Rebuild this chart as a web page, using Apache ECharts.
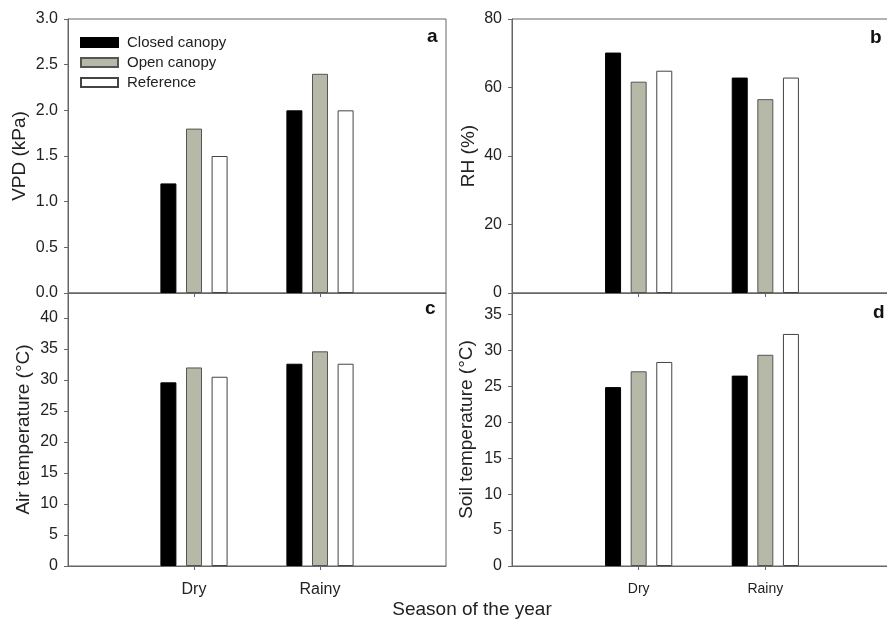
<!DOCTYPE html>
<html>
<head>
<meta charset="utf-8">
<script src="https://cdn.jsdelivr.net/npm/echarts@6/dist/echarts.min.js"></script>
<style>html,body{margin:0;padding:0;background:#fff}#c{width:887px;height:621px}</style>
</head>
<body>
<div id="c"></div>
<script>
const seasons = ['Dry', 'Rainy'];
const seriesNames = ['Closed canopy', 'Open canopy', 'Reference'];

const vpdClosed = [1.2, 2.0];
const vpdOpen = [1.8, 2.4];
const vpdRef = [1.5, 2.0];

const rhClosed = [70.2, 62.9];
const rhOpen = [61.7, 56.6];
const rhRef = [64.9, 62.9];

const airClosed = [29.6, 32.6];
const airOpen = [32.0, 34.6];
const airRef = [30.5, 32.6];

const soilClosed = [24.9, 26.5];
const soilOpen = [27.1, 29.4];
const soilRef = [28.4, 32.3];

const airTicks = [0, 5, 10, 15, 20, 25, 30, 35, 40];
const soilTicks = [0, 5, 10, 15, 20, 25, 30, 35];

const FONT = 'Liberation Sans, Arial, sans-serif';
const FRAME = '#666';
const fills = ['#000000', '#b6b8a8', '#ffffff'];
const borders = ['#000000', '#555555', '#444444'];

const cats = [''].concat(seasons, ['']);
function pad(arr) { return ['-'].concat(arr, ['-']); }

const grids = [
  {left: 68, top: 19, width: 378, height: 274},
  {left: 512, top: 19, width: 380, height: 274},
  {left: 68, top: 293, width: 378, height: 273},
  {left: 512, top: 293, width: 380, height: 273}
].map(g => Object.assign({show: true, borderColor: FRAME, borderWidth: 1, backgroundColor: 'transparent', containLabel: false, outerBoundsMode: 'none'}, g));

function xAxis(i, showLabels, labelSize) {
  return {
    type: 'category', gridIndex: i, data: cats, boundaryGap: false,
    axisLine: {show: true, lineStyle: {color: FRAME}},
    axisTick: {show: true, length: 4, lineStyle: {color: FRAME}, interval: (idx) => idx === 1 || idx === 2},
    axisLabel: {show: showLabels, interval: 0, margin: 16, color: '#222', fontFamily: FONT, fontSize: labelSize},
    splitLine: {show: false}
  };
}

function yAxis(i, name, max, interval, gap, fmt, ticks) {
  const ax = {
    type: 'value', gridIndex: i, min: 0, max: max, interval: interval,
    name: name, nameLocation: 'middle', nameRotate: 90, nameGap: gap,
    nameTextStyle: {fontFamily: FONT, fontSize: 19, color: '#222'},
    axisLine: {show: true, lineStyle: {color: FRAME}},
    axisTick: {show: true, length: 4, lineStyle: {color: FRAME}},
    axisLabel: {margin: 10, color: '#222', fontFamily: FONT, fontSize: 16, formatter: fmt},
    splitLine: {show: false}
  };
  if (ticks) {
    ax.axisLabel.customValues = ticks;
    ax.axisTick.customValues = ticks;
  }
  return ax;
}

const panels = [
  [vpdClosed, vpdOpen, vpdRef],
  [rhClosed, rhOpen, rhRef],
  [airClosed, airOpen, airRef],
  [soilClosed, soilOpen, soilRef]
];

const series = [];
panels.forEach((p, gi) => {
  p.forEach((arr, si) => {
    series.push({
      type: 'bar', name: seriesNames[si], xAxisIndex: gi, yAxisIndex: gi,
      data: pad(arr), barWidth: 16, barGap: '60%',
      itemStyle: {color: fills[si], borderColor: borders[si], borderWidth: 1},
      emphasis: {disabled: true}
    });
  });
});

function label(t, x, y) {
  return {type: 'text', x: x, y: y, style: {text: t, font: 'bold 19px ' + FONT, fill: '#111', textVerticalAlign: 'middle'}};
}

const option = {
  animation: false,
  backgroundColor: '#fff',
  grid: grids,
  xAxis: [xAxis(0, false, 16), xAxis(1, false, 14), xAxis(2, true, 16), xAxis(3, true, 14)],
  yAxis: [
    yAxis(0, 'VPD (kPa)', 3, 0.5, 39, v => v.toFixed(1)),
    yAxis(1, 'RH (%)', 80, 20, 34, v => String(v)),
    yAxis(2, 'Air temperature (°C)', 44, 5, 35, v => String(v), airTicks),
    yAxis(3, 'Soil temperature (°C)', 38, 5, 36, v => String(v), soilTicks)
  ],
  legend: {
    data: seriesNames.map(n => ({name: n, icon: 'rect'})), orient: 'vertical', left: 75, top: 30,
    itemWidth: 37, itemHeight: 9, itemGap: 5,
    textStyle: {fontFamily: FONT, fontSize: 15, color: '#222', padding: [0, 0, 0, 4]},
    selectedMode: false
  },
  graphic: [
    label('a', 427, 37),
    label('b', 870, 38),
    label('c', 425, 309),
    label('d', 873, 313),
    {type: 'text', x: 472, y: 610, style: {text: 'Season of the year', font: '19px ' + FONT, fill: '#222', textAlign: 'center', textVerticalAlign: 'middle'}}
  ],
  series: series
};

echarts.init(document.getElementById('c'), null, {renderer: 'canvas'}).setOption(option);
</script>
</body>
</html>
